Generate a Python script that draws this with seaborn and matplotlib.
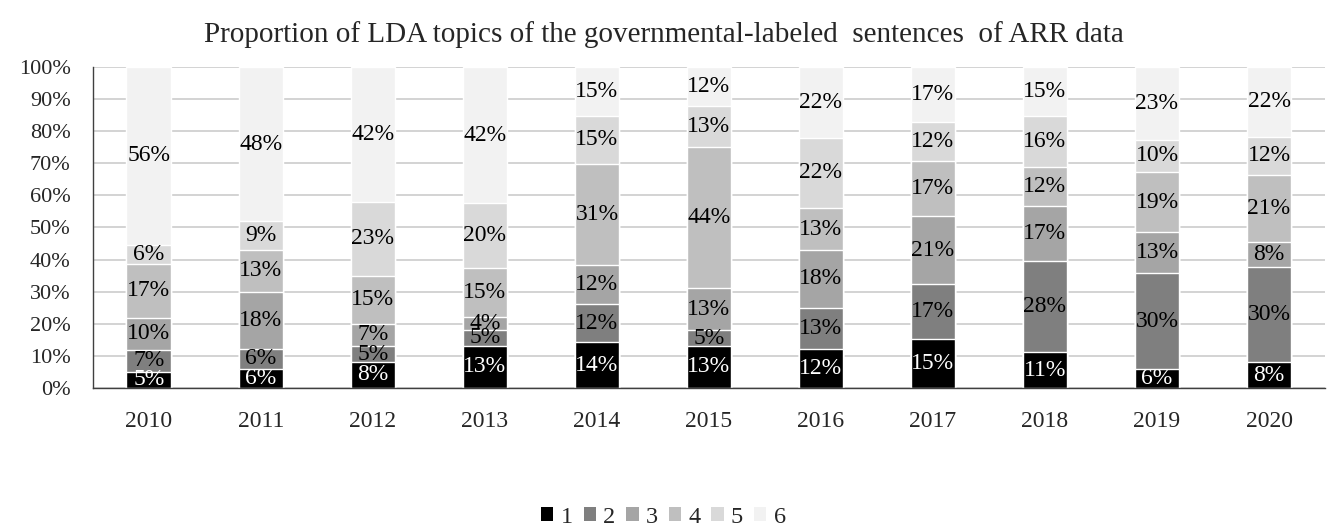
import numpy as np
import pandas as pd
import matplotlib
matplotlib.use("Agg")
import matplotlib.pyplot as plt
import seaborn as sns
from matplotlib.patches import Patch

years = ["2010", "2011", "2012", "2013", "2014", "2015", "2016", "2017", "2018", "2019", "2020"]
topic1 = [5, 6, 8, 13, 14, 13, 12, 15, 11, 6, 8]
topic2 = [7, 6, 5, 5, 12, 5, 13, 17, 28, 30, 30]
topic3 = [10, 18, 7, 4, 12, 13, 18, 21, 17, 13, 8]
topic4 = [17, 13, 15, 15, 31, 44, 13, 17, 12, 19, 21]
topic5 = [6, 9, 23, 20, 15, 13, 22, 12, 16, 10, 12]
topic6 = [56, 48, 42, 42, 15, 12, 22, 17, 15, 23, 22]
topic_names = ["1", "2", "3", "4", "5", "6"]
colors = ["#000000", "#7f7f7f", "#a5a5a5", "#bfbfbf", "#d9d9d9", "#f2f2f2"]

sns.set_theme(style="white")
plt.rcParams["font.family"] = ["Liberation Serif", "DejaVu Serif"]

values = np.array([topic1, topic2, topic3, topic4, topic5, topic6], dtype=float)
shares = values / values.sum(axis=0) * 100  # 100% stacked
cum = np.cumsum(shares, axis=0)

fig = plt.figure(figsize=(13.27, 5.32), dpi=100)
ax = fig.add_axes([0.070, 0.271, 0.9285, 0.603])

# draw cumulative totals from the top layer down so each layer covers the next
for k in range(5, -1, -1):
    df = pd.DataFrame({"year": years, "total": cum[k]})
    sns.barplot(data=df, x="year", y="total", color=colors[k], width=0.4,
                saturation=1, ax=ax, zorder=2)

for k in range(6):
    bottoms = cum[k] - shares[k]
    for i in range(len(years)):
        ax.text(i, bottoms[i] + shares[k][i] / 2, f"{int(values[k][i])}%",
                ha="center", va="center", fontsize=17,
                color="white" if k == 0 else "black", zorder=3, clip_on=True)

ax.set_ylim(0, 100)
ax.set_xlim(-0.5, len(years) - 0.5)
ax.set_yticks(np.arange(0, 101, 10))
ax.set_yticklabels([f"{v}%" for v in range(0, 101, 10)], fontsize=16)
ax.tick_params(axis="x", labelsize=17, pad=17, length=0)
ax.tick_params(axis="y", length=0, pad=16)
ax.set_xlabel("")
ax.set_ylabel("")
ax.yaxis.grid(True, color="#d0d0d0", linewidth=1.3, zorder=0)
ax.set_axisbelow(True)
for s in ["top", "right"]:
    ax.spines[s].set_visible(False)
ax.spines["left"].set_color("#404040")
ax.spines["bottom"].set_color("#404040")
ax.spines["left"].set_linewidth(1.0)
ax.spines["bottom"].set_linewidth(1.0)

fig.text(0.5, 0.935,
         "Proportion of LDA topics of the governmental-labeled  sentences  of ARR data",
         ha="center", va="center", fontsize=21)

handles = [Patch(facecolor=c, edgecolor="none") for c in colors]
fig.legend(handles, topic_names, loc="center", bbox_to_anchor=(0.5, 0.028), ncol=6,
           frameon=False, fontsize=17.5, handlelength=0.5, handleheight=0.5,
           handletextpad=0.3, columnspacing=0.45, borderpad=0.1)

fig.savefig("out.png", dpi=100)
